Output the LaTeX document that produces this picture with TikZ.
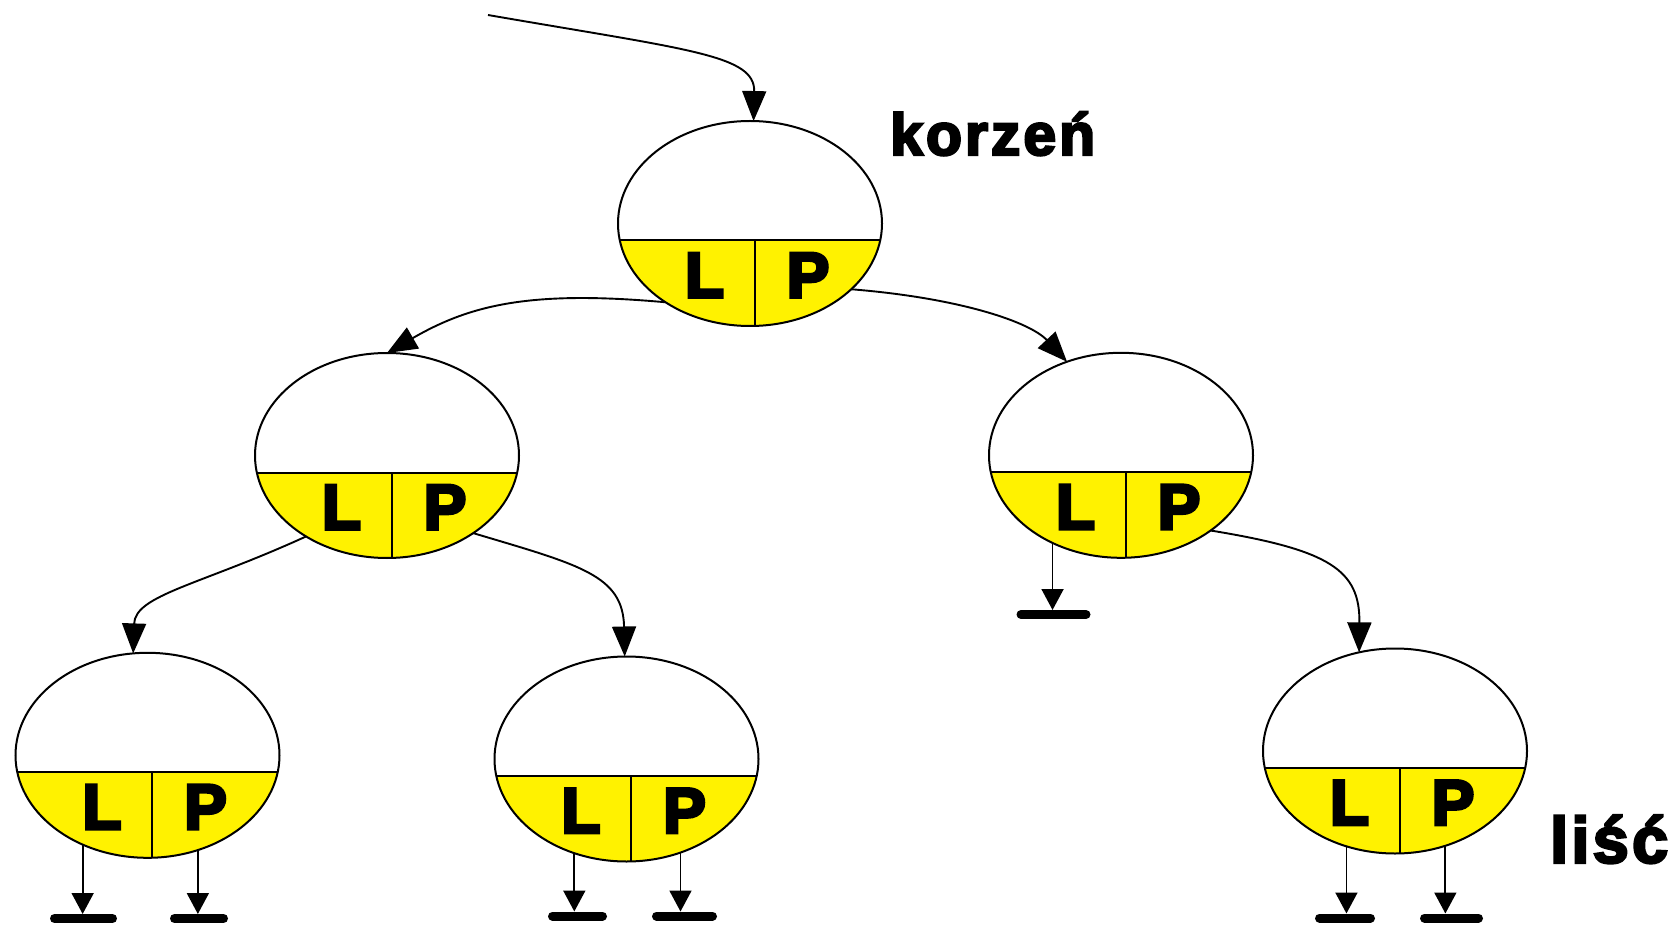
\documentclass[tikz,border=0pt]{standalone}
\usepackage{fontspec}
\usetikzlibrary{arrows.meta,shapes.geometric}
\newfontfamily\heavy{Liberation Sans}[BoldFeatures={FakeBold=5}]
\newfontfamily\heavylbl{Liberation Sans}[BoldFeatures={FakeBold=4,LetterSpace=5}]
\newcommand\tnode[3]{%
  \begin{scope}
    \clip (#2-140,#3+17) rectangle (#2+140,#3+125);
    \fill[nodeyellow] (#2,#3) ellipse [x radius=132pt, y radius=102.5pt];
  \end{scope}
  \node[treeellipse] (#1) at (#2,#3) {};
  \draw[divline] (#2-130.5,#3+17) -- (#2+130.5,#3+17);
  \draw[divline] (#2+4.5,#3+17) -- (#2+4.5,#3+102.5);
  \node[lpfont] (#1L) at (#2-45.5,#3+73.7) {L};
  \node[lpfont] (#1P) at (#2+58,#3+73.7) {P};
}
\begin{document}
\begin{tikzpicture}[x=1pt,y=-1pt,
  treeellipse/.style={ellipse, draw, line width=2pt, minimum width=264pt, minimum height=205pt, inner sep=0pt, outer sep=0pt},
  divline/.style={line width=2pt},
  lpfont/.style={anchor=base, inner sep=0pt, font=\heavy\bfseries\fontsize{64}{64}\selectfont},
  lblfont/.style={anchor=base west, inner sep=0pt, font=\heavylbl\bfseries\fontsize{55}{55}\selectfont},
  conn/.style={line width=1.9pt, -{Triangle[length=30pt,width=24pt]}},
  nullconn/.style={line width=1.9pt, -{Triangle[length=21pt,width=22pt]}},
  nullbar/.style={line width=9pt, line cap=round}]
\useasboundingbox (0,0) rectangle (1679,925);
\colorlet{nodeyellow}{yellow}

\tnode{root}{750}{223.5}
\tnode{LM}{387}{455.5}
\tnode{RM}{1121}{455.3}
\tnode{LL}{147.5}{755.3}
\tnode{LR}{626.5}{759}
\tnode{RR}{1395}{751}

% labels
\node[lblfont] (korzen) at (890,155) {\resizebox{205pt}{!}{korzeń}};
\node[lblfont, font=\heavylbl\bfseries\fontsize{62}{62}\selectfont] (lisc) at (1550,862.7) {\resizebox{118pt}{!}{liść}};

% connectors
\coordinate (start) at (488,15);
\draw[conn] (start) .. controls (690,50) and (755,55) .. (root.88);
\draw[conn] (root.223) .. controls (530,290) and (470,305) .. (LM.90);
\draw[conn] (root.327) .. controls (960,298) and (1030,322) .. (RM.120);
\draw[conn] (LM.225) .. controls (200,585) and (135,595) .. (LL.98);
\draw[conn] (LM.318) .. controls (580,565) and (623,575) .. (LR.91);
\draw[conn] (RM.320) .. controls (1330,550) and (1360,570) .. (RR.110);

% null pointers
\coordinate (nRM) at (1053,610);
\draw[nullconn] (RM.232) -- (RM.232 |- nRM);
\draw[nullbar] (1021,614.5) -- (1086,614.5);

\coordinate (nLLa) at (83,914);
\coordinate (nLLb) at (198,914);
\draw[nullconn] (LL.234) -- (LL.234 |- nLLa);
\draw[nullconn] (LL.298) -- (LL.298 |- nLLb);
\draw[nullbar] (54.5,918.5) -- (112.5,918.5);
\draw[nullbar] (174.5,918.5) -- (223.5,918.5);

\coordinate (nLRa) at (575,911.5);
\coordinate (nLRb) at (680,911.5);
\draw[nullconn] (LR.241) -- (LR.241 |- nLRa);
\draw[nullconn] (LR.300) -- (LR.300 |- nLRb);
\draw[nullbar] (552.5,916) -- (602.5,916);
\draw[nullbar] (656.5,916) -- (712.5,916);

\coordinate (nRRa) at (1346,913.5);
\coordinate (nRRb) at (1445,913.5);
\draw[nullconn] (RR.243) -- (RR.243 |- nRRa);
\draw[nullconn] (RR.298) -- (RR.298 |- nRRb);
\draw[nullbar] (1319.5,918) -- (1370.5,918);
\draw[nullbar] (1424.5,918) -- (1478.5,918);
\end{tikzpicture}
\end{document}
